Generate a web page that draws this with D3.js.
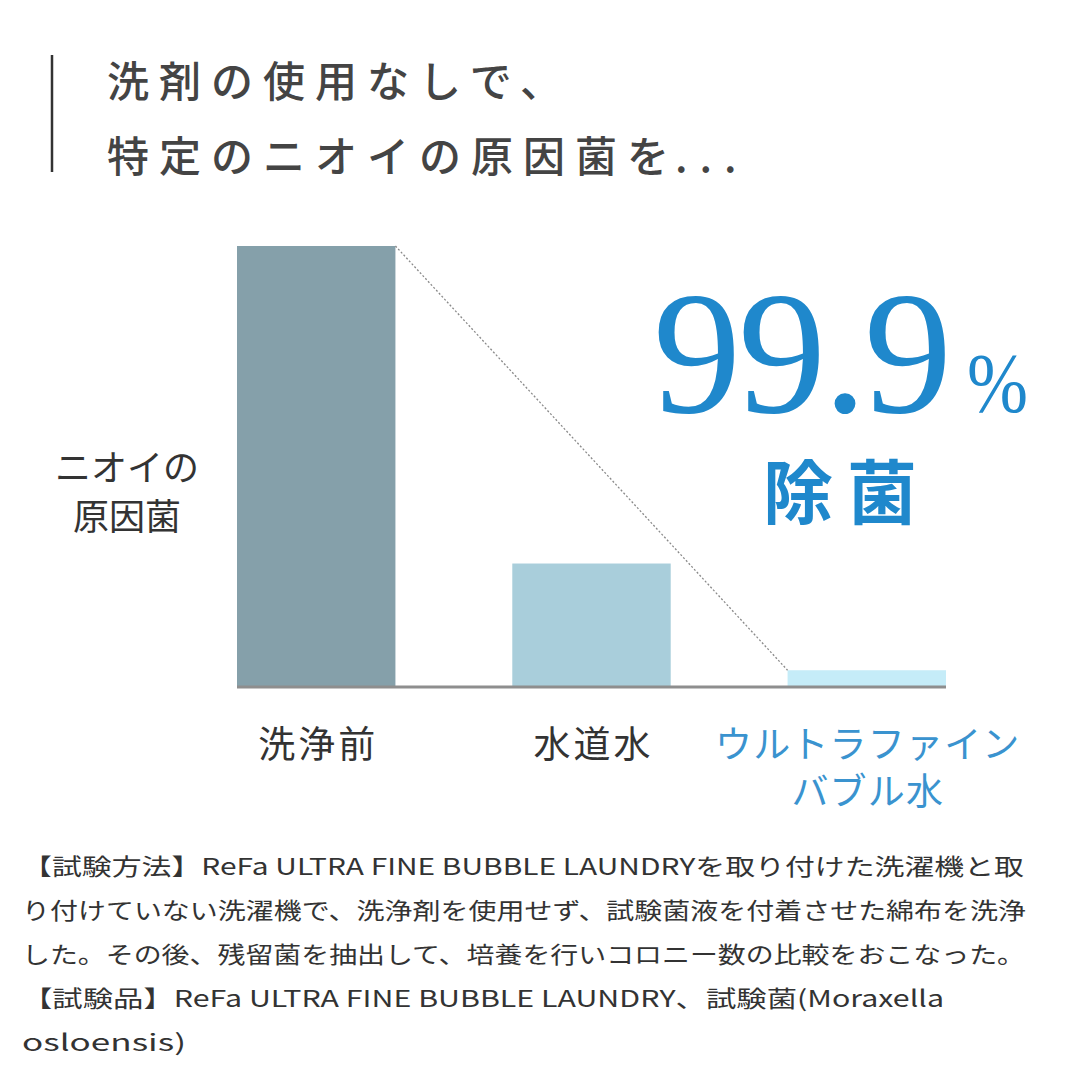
<!DOCTYPE html>
<html>
<head>
<meta charset="utf-8">
<script src="https://cdn.jsdelivr.net/npm/d3@7"></script>
<style>
  html, body { margin: 0; padding: 0; background: #fff; }
  svg { display: block; }
</style>
</head>
<body>
<svg id="chart" width="1080" height="1069"></svg>
<script>
// ---- data ----
const categories = ["洗浄前", "水道水", "ウルトラファインバブル水"];
const categoryLines = [["洗浄前"], ["水道水"], ["ウルトラファイン", "バブル水"]];
const values = [100, 28, 3.8];
const barColors = ["#85a0aa", "#a9cedb", "#c5ecf8"];
const labelColors = ["#333333", "#333333", "#3a93cf"];
const titleLines = [["洗剤の使用なしで、", ""], ["特定のニオイの原因菌を", "..."]];
const yLabelLines = ["ニオイの", "原因菌"];
const headline = "99.9";
const headlineUnit = "%";
const headlineSub = "除菌";
const footnoteLines = [
  "【試験方法】ReFa ULTRA FINE BUBBLE LAUNDRYを取り付けた洗濯機と取",
  "り付けていない洗濯機で、洗浄剤を使用せず、試験菌液を付着させた綿布を洗浄",
  "した。その後、残留菌を抽出して、培養を行いコロニー数の比較をおこなった。",
  "【試験品】ReFa ULTRA FINE BUBBLE LAUNDRY、試験菌(Moraxella",
  "osloensis)"
];
const footnoteWidths = [1002, 1004, 1003, 922, 164];

// ---- drawing ----
const svg = d3.select("#chart");
const jp = "'Noto Sans CJK JP', 'Noto Sans', sans-serif";

// title
svg.append("line")
  .attr("x1", 52).attr("x2", 52).attr("y1", 55).attr("y2", 172)
  .attr("stroke", "#333").attr("stroke-width", 2.5);
const titles = svg.selectAll("text.title").data(titleLines).join("text")
  .attr("class", "title")
  .attr("x", 107)
  .attr("y", (d, i) => 97 + i * 75)
  .attr("font-family", jp).attr("font-size", 42).attr("font-weight", 500)
  .attr("letter-spacing", 10)
  .attr("fill", "#444");
titles.append("tspan").text(d => d[0]);
titles.append("tspan").attr("letter-spacing", 12).attr("dx", -4).text(d => d[1]);

// scales
const x = d3.scaleBand().domain(categories).range([237, 946]).paddingInner(0.4245).paddingOuter(0);
const y = d3.scaleLinear().domain([0, 100]).range([687, 246]);

// bars
svg.selectAll("rect.bar").data(values).join("rect")
  .attr("class", "bar")
  .attr("x", (d, i) => x(categories[i]))
  .attr("y", d => y(d))
  .attr("width", x.bandwidth())
  .attr("height", d => y(0) - y(d))
  .attr("fill", (d, i) => barColors[i]);

// baseline
svg.append("line")
  .attr("x1", x.range()[0]).attr("x2", x.range()[1])
  .attr("y1", y(0)).attr("y2", y(0))
  .attr("stroke", "#8e8e8e").attr("stroke-width", 3);

// dotted connector
svg.append("line")
  .attr("x1", x(categories[0]) + x.bandwidth()).attr("y1", y(values[0]))
  .attr("x2", x(categories[2])).attr("y2", y(values[2]))
  .attr("stroke", "#8a8a8a").attr("stroke-width", 1.3)
  .attr("stroke-dasharray", "2,2");

// y label
svg.selectAll("text.ylab").data(yLabelLines).join("text")
  .attr("class", "ylab")
  .attr("x", 127)
  .attr("y", (d, i) => 481 + i * 49)
  .attr("text-anchor", "middle")
  .attr("font-family", jp).attr("font-size", 36)
  .attr("fill", "#333")
  .text(d => d);

// category labels
categoryLines.forEach((lines, i) => {
  svg.selectAll(null).data(lines).join("text")
    .attr("x", x(categories[i]) + x.bandwidth() / 2 + (i === 2 ? 1 : 2))
    .attr("y", (d, j) => 758 + j * 47)
    .attr("text-anchor", "middle")
    .attr("font-family", jp).attr("font-size", 37)
    .attr("letter-spacing", i === 2 ? 1.2 : 3)
    .attr("fill", labelColors[i])
    .text(d => d);
});

// headline
const blue = "#1f88cc";
svg.append("text")
  .attr("x", 653).attr("y", 412)
  .attr("font-family", "'Liberation Serif', 'DejaVu Serif', serif")
  .attr("font-size", 176)
  .attr("letter-spacing", -3)
  .attr("fill", blue)
  .text(headline);
svg.append("text")
  .attr("x", 967).attr("y", 412)
  .attr("font-family", "'Liberation Serif', 'DejaVu Serif', serif")
  .attr("font-size", 84)
  .attr("textLength", 61).attr("lengthAdjust", "spacingAndGlyphs")
  .attr("fill", blue)
  .text(headlineUnit);
svg.append("text")
  .attr("x", 847).attr("y", 519)
  .attr("text-anchor", "middle")
  .attr("font-family", jp).attr("font-size", 70).attr("font-weight", 700)
  .attr("letter-spacing", 14)
  .attr("fill", blue)
  .text(headlineSub);

// footnote
svg.selectAll("text.foot").data(footnoteLines).join("text")
  .attr("class", "foot")
  .attr("x", 22)
  .attr("y", (d, i) => 875 + i * 44)
  .attr("font-family", jp).attr("font-size", 23)
  .attr("textLength", (d, i) => footnoteWidths[i])
  .attr("lengthAdjust", "spacingAndGlyphs")
  .attr("fill", "#333")
  .text(d => d);
</script>
</body>
</html>
